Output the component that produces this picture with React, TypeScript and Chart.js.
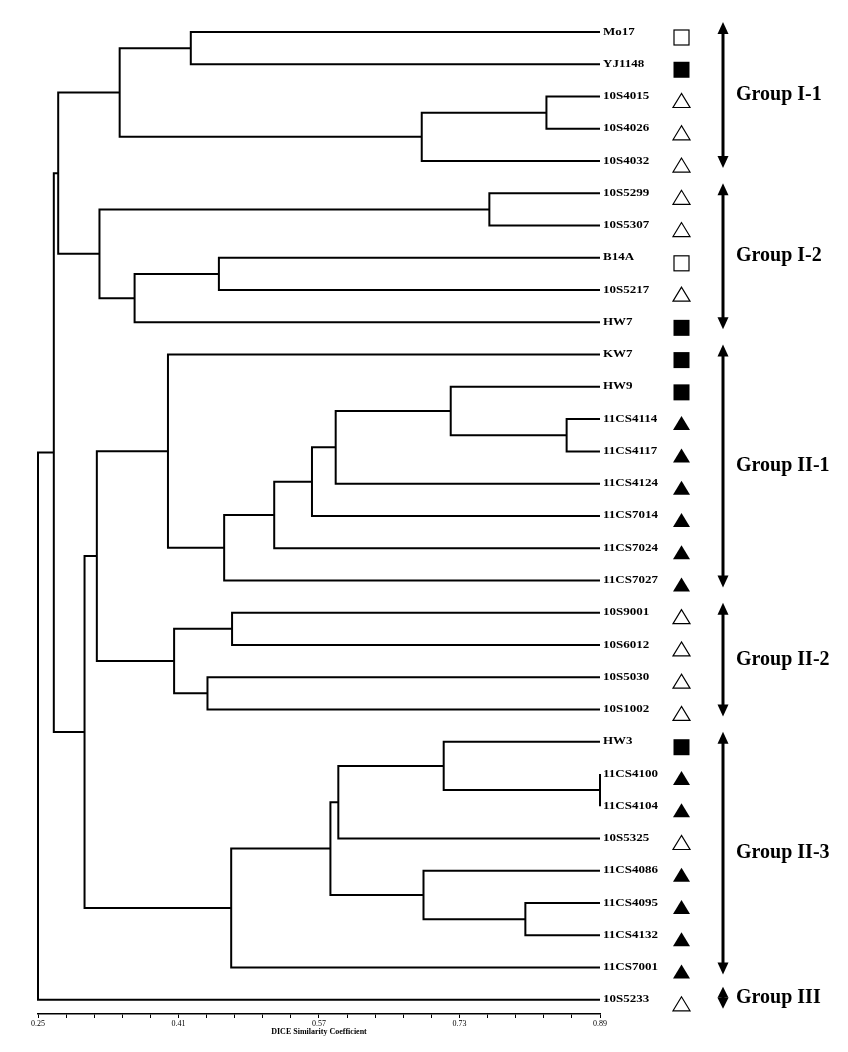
import React, { useEffect, useRef } from 'react';
import { Chart, registerables } from 'chart.js';

Chart.register(...registerables);

// ---------- data ----------
const leafLabels = [
  'Mo17', 'YJ1148', '10S4015', '10S4026', '10S4032', '10S5299', '10S5307', 'B14A', '10S5217', 'HW7',
  'KW7', 'HW9', '11CS4114', '11CS4117', '11CS4124', '11CS7014', '11CS7024', '11CS7027',
  '10S9001', '10S6012', '10S5030', '10S1002',
  'HW3', '11CS4100', '11CS4104', '10S5325', '11CS4086', '11CS4095', '11CS4132', '11CS7001',
  '10S5233',
];

const leafMarkers = [
  'openSquare', 'filledSquare', 'openTriangle', 'openTriangle', 'openTriangle',
  'openTriangle', 'openTriangle', 'openSquare', 'openTriangle', 'filledSquare',
  'filledSquare', 'filledSquare', 'filledTriangle', 'filledTriangle', 'filledTriangle',
  'filledTriangle', 'filledTriangle', 'filledTriangle',
  'openTriangle', 'openTriangle', 'openTriangle', 'openTriangle',
  'filledSquare', 'filledTriangle', 'filledTriangle', 'openTriangle', 'filledTriangle',
  'filledTriangle', 'filledTriangle', 'filledTriangle',
  'openTriangle',
];

// Merges: node id of merge k = leafLabels.length + k
const mergeLeft = [0, 2, 32, 31, 5, 7, 36, 35, 34, 12, 11, 41, 42, 43, 44, 10, 18, 20, 47, 46, 23, 22, 52, 27, 26, 53, 56, 50, 39, 59];
const mergeRight = [1, 3, 4, 33, 6, 8, 9, 37, 38, 13, 40, 14, 15, 16, 17, 45, 19, 21, 48, 49, 24, 51, 25, 28, 54, 55, 29, 57, 58, 30];
const mergeSimilarity = [
  0.424, 0.829, 0.687, 0.343, 0.764, 0.456, 0.360, 0.320, 0.273,
  0.852, 0.720, 0.589, 0.562, 0.519, 0.462, 0.398,
  0.471, 0.443, 0.405, 0.317,
  0.89, 0.712, 0.592, 0.805, 0.689, 0.583, 0.470,
  0.303, 0.268, 0.25,
];

const xTickLabels = ['0.25', '0.41', '0.57', '0.73', '0.89'];
const minorPerMajor = 5;
const axisTitle = 'DICE Similarity Coefficient';

const groupNames = ['Group I-1', 'Group I-2', 'Group II-1', 'Group II-2', 'Group II-3', 'Group III'];
const groupFirstLeaf = [0, 5, 10, 18, 22, 30];
const groupLastLeaf = [4, 9, 17, 21, 29, 30];

// ---------- derived ----------
const majorValues = xTickLabels.map(Number);
const xMin = majorValues[0];
const xMax = majorValues[majorValues.length - 1];

function buildTree() {
  const n = leafLabels.length;
  const nodeX: number[] = [];
  const nodeY: number[] = [];
  for (let i = 0; i < n; i++) {
    nodeX[i] = xMax;
    nodeY[i] = i;
  }
  const segments: { x: number; y: number }[][] = [];
  mergeLeft.forEach((a, k) => {
    const b = mergeRight[k];
    const h = mergeSimilarity[k];
    const id = n + k;
    nodeX[id] = h;
    nodeY[id] = (nodeY[a] + nodeY[b]) / 2;
    segments.push([
      { x: nodeX[a], y: nodeY[a] },
      { x: h, y: nodeY[a] },
      { x: h, y: nodeY[b] },
      { x: nodeX[b], y: nodeY[b] },
    ]);
  });
  return segments;
}

function buildTickValues() {
  const vals: number[] = [];
  for (let i = 0; i < majorValues.length - 1; i++) {
    const a = majorValues[i];
    const b = majorValues[i + 1];
    for (let j = 0; j < minorPerMajor; j++) vals.push(a + ((b - a) * j) / minorPerMajor);
  }
  vals.push(xMax);
  return vals;
}

const FONT = '"Liberation Serif", "Times New Roman", serif';

function drawArrowHead(ctx: CanvasRenderingContext2D, x: number, tipY: number, dir: number, len: number) {
  ctx.beginPath();
  ctx.moveTo(x, tipY);
  ctx.lineTo(x - 5.5, tipY + dir * len);
  ctx.lineTo(x + 5.5, tipY + dir * len);
  ctx.closePath();
  ctx.fill();
}

const annotationPlugin = {
  id: 'dendroAnnotations',
  afterDatasetsDraw(chart: any) {
    const ctx: CanvasRenderingContext2D = chart.ctx;
    const ys = chart.scales.y;
    const area = chart.chartArea;
    ctx.save();
    ctx.fillStyle = '#000';
    ctx.strokeStyle = '#000';

    // leaf labels and markers
    ctx.font = `bold 10px ${FONT}`;
    ctx.textBaseline = 'middle';
    ctx.textAlign = 'left';
    leafLabels.forEach((lab, i) => {
      const py = ys.getPixelForValue(i);
      ctx.save();
      ctx.translate(area.right + 3, py);
      ctx.scale(1.3, 1);
      ctx.fillText(lab, 0, 0);
      ctx.restore();

      const cx = area.right + 81.5;
      const m = leafMarkers[i];
      ctx.lineWidth = 1.2;
      if (m === 'openSquare' || m === 'filledSquare') {
        const top = py - 2.5;
        if (m === 'filledSquare') {
          ctx.fillRect(cx - 8, top, 16, 16);
        } else {
          ctx.fillStyle = '#fff';
          ctx.fillRect(cx - 8, top, 16, 16);
          ctx.fillStyle = '#000';
          ctx.strokeRect(cx - 7.5, top + 0.5, 15, 15);
        }
      } else {
        ctx.beginPath();
        ctx.moveTo(cx, py - 3);
        ctx.lineTo(cx - 8.5, py + 11);
        ctx.lineTo(cx + 8.5, py + 11);
        ctx.closePath();
        if (m === 'filledTriangle') ctx.fill();
        else ctx.stroke();
      }
    });

    // group arrows and names
    const ax = area.right + 123;
    groupNames.forEach((name, g) => {
      let top = ys.getPixelForValue(groupFirstLeaf[g]) - 10;
      let bot = ys.getPixelForValue(groupLastLeaf[g]) + 7;
      if (bot - top < 22) {
        const mid = (top + bot) / 2;
        top = mid - 11.5;
        bot = mid + 10.5;
      }
      const len = Math.min(12, (bot - top) / 2);
      ctx.lineWidth = 3;
      ctx.beginPath();
      ctx.moveTo(ax, top + len - 1);
      ctx.lineTo(ax, bot - len + 1);
      ctx.stroke();
      drawArrowHead(ctx, ax, top, 1, len);
      drawArrowHead(ctx, ax, bot, -1, len);

      ctx.font = `bold 20px ${FONT}`;
      ctx.textBaseline = 'middle';
      ctx.fillText(name, area.right + 136, (top + bot) / 2);
    });
    ctx.restore();
  },
};

export default function App() {
  const canvasRef = useRef<HTMLCanvasElement>(null);

  useEffect(() => {
    if (!canvasRef.current) return;
    const segments = buildTree();
    const tickValues = buildTickValues();
    const datasets = segments.map((seg) => ({
      data: seg,
      showLine: true,
      borderColor: '#000',
      borderWidth: 2,
      pointRadius: 0,
      pointHoverRadius: 0,
      tension: 0,
      fill: false,
      clip: false as const,
    }));

    const chart = new Chart(canvasRef.current, {
      type: 'scatter',
      data: { datasets },
      options: {
        responsive: false,
        animation: false,
        events: [],
        layout: { padding: { left: 38, right: 248, top: 32, bottom: 15 } },
        plugins: {
          legend: { display: false },
          tooltip: { enabled: false },
        },
        scales: {
          x: {
            type: 'linear',
            position: 'bottom',
            min: xMin,
            max: xMax,
            grid: { display: true, drawOnChartArea: false, drawTicks: true, tickLength: 4, color: '#000', lineWidth: 1 },
            border: { display: true, color: '#000', width: 1.5 },
            ticks: {
              autoSkip: false,
              maxRotation: 0,
              padding: 1,
              color: '#000',
              font: { family: FONT, size: 8 },
              callback: (value: any) => {
                const v = Number(value);
                const idx = majorValues.findIndex((m) => Math.abs(m - v) < 1e-6);
                return idx >= 0 ? xTickLabels[idx] : '';
              },
            },
            title: {
              display: true,
              text: axisTitle,
              color: '#000',
              font: { family: FONT, size: 8, weight: 'bold' },
              padding: { top: 0, bottom: 0 },
            },
            afterBuildTicks: (scale: any) => {
              scale.ticks = tickValues.map((v) => ({ value: v }));
            },
            afterFit: (scale: any) => {
              scale.height = 23;
            },
          },
          y: {
            type: 'linear',
            display: false,
            reverse: true,
            min: 0,
            max: 30.44,
          },
        },
      },
      plugins: [annotationPlugin],
    } as any);

    return () => chart.destroy();
  }, []);

  return (
    <div style={{ position: 'absolute', left: 0, top: 0, width: 848, height: 1052, background: '#fff' }}>
      <canvas ref={canvasRef} width={848} height={1052} style={{ display: 'block' }} />
    </div>
  );
}
